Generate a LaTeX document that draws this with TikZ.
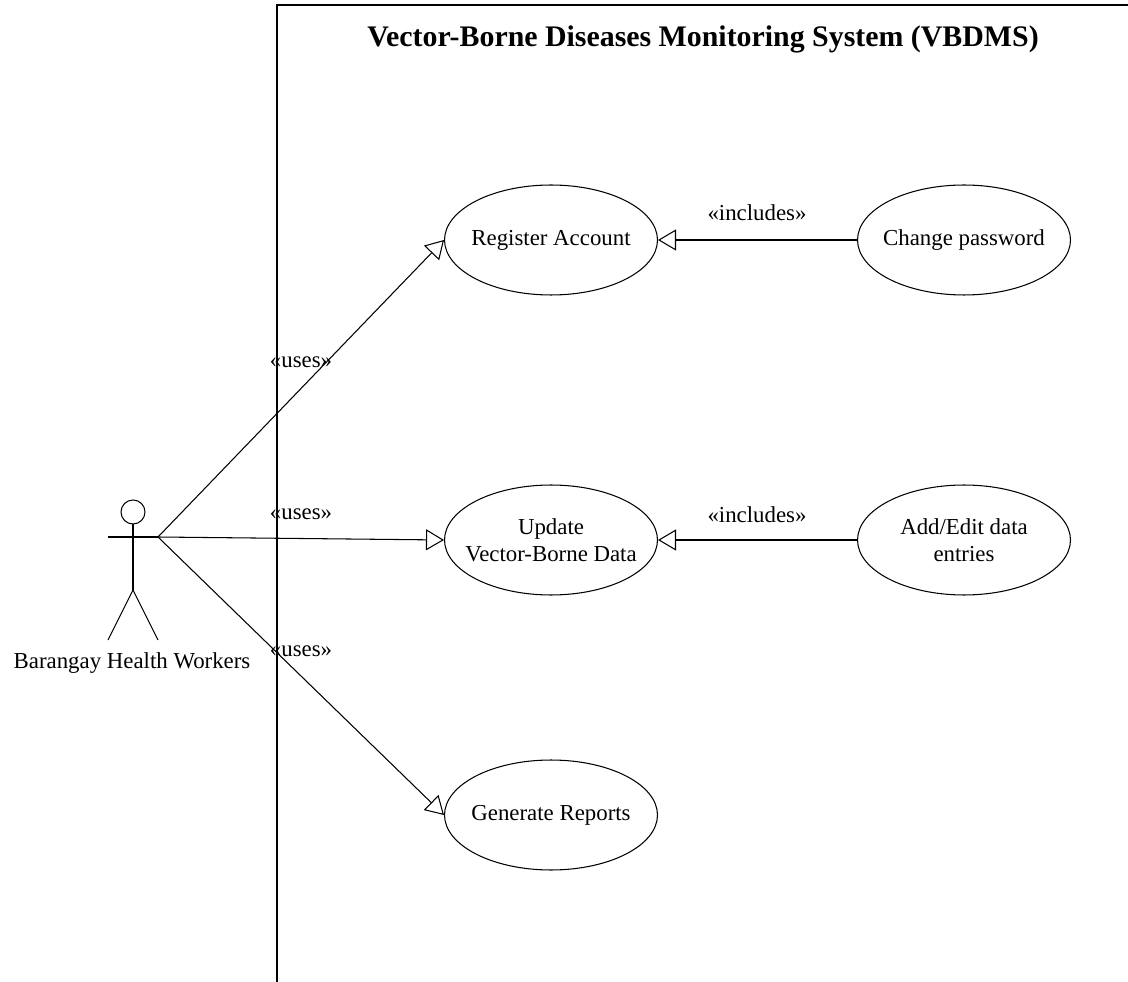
\documentclass[tikz,border=0pt]{standalone}
\usepackage{fontspec}
\setmainfont{Liberation Serif}
\usetikzlibrary{arrows.meta,shapes.geometric}
\tikzset{
  usecase/.style={draw,ellipse,minimum width=4.26cm,minimum height=2.2cm,inner xsep=-0.6cm,inner ysep=0pt,align=center,font=\fontsize{13}{15.5}\selectfont},
  stereo/.style={font=\fontsize{13}{15.5}\selectfont,inner sep=1pt},
  gen/.style={-{Triangle[open,length=0.36cm,width=0.42cm]}},
}
\begin{document}
\begin{tikzpicture}[x=0.02cm,y=-0.02cm,line width=0.6pt]
        \useasboundingbox (0,0) rectangle (1128,982);
        %% System boundary
        \draw[line width=1pt] (277,982) -- (277,5) -- (1128,5);
        \node[font=\fontsize{17}{20}\selectfont\bfseries] (title) at (703,39) {Vector-Borne Diseases Monitoring System (VBDMS)};
        %% Actor
        \coordinate (head) at (133,512);
        \coordinate (neck) at (133,524);
        \coordinate (hip) at (133,590);
        \coordinate (lhand) at (108,537);
        \coordinate (rhand) at (158,537);
        \draw (head) circle (12);
        \draw (neck) -- (hip);
        \draw (lhand) -- (rhand);
        \draw (hip) -- (108,640);
        \draw (hip) -- (158,640);
        \node[font=\fontsize{13}{15.5}\selectfont] (bhw) at (132,663) {Barangay Health Workers};
        %% Use cases
        \node[usecase] (reg) at (551,240) {Register Account};
        \node[usecase] (chg) at (964,240) {Change password};
        \node[usecase] (upd) at (551,540) {Update\\Vector-Borne Data};
        \node[usecase] (add) at (964,540) {Add/Edit data\\entries};
        \node[usecase] (rep) at (551,815) {Generate Reports};
        %% Associations
        \draw[gen] (rhand) -- (reg.west);
        \draw[gen] (rhand) -- (upd.west);
        \draw[gen] (rhand) -- (rep.west);
        \draw[gen] (chg) -- (reg);
        \draw[gen] (add) -- (upd);
        %% Stereotypes
        \node[stereo] (uses1) at (301,362) {«uses»};
        \node[stereo] (uses2) at (301,514) {«uses»};
        \node[stereo] (uses3) at (301,651) {«uses»};
        \node[stereo] (inc1) at (757,213) {«includes»};
        \node[stereo] (inc2) at (757,515) {«includes»};
    \end{tikzpicture}
\end{document}
